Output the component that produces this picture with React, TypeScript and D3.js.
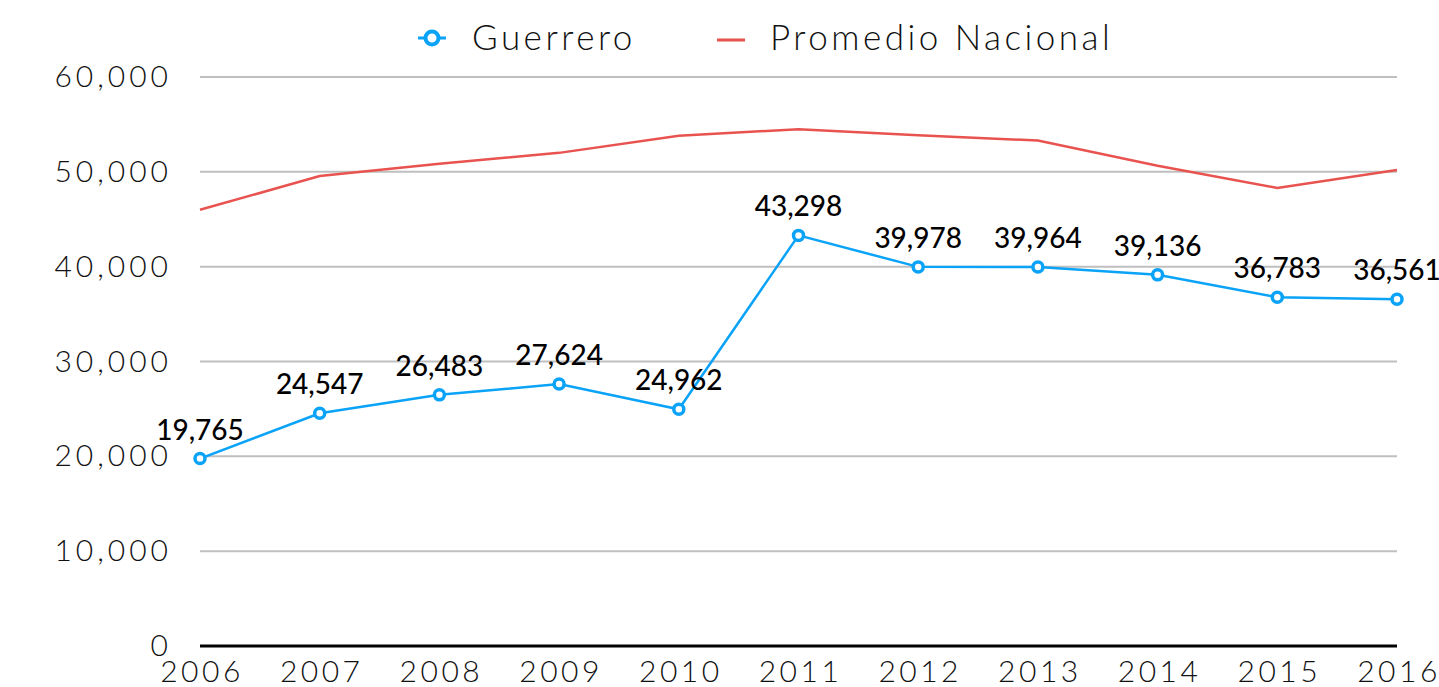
import React from "react";
import * as d3 from "d3";

const years = ["2006", "2007", "2008", "2009", "2010", "2011", "2012", "2013", "2014", "2015", "2016"];
const guerrero = [19765, 24547, 26483, 27624, 24962, 43298, 39978, 39964, 39136, 36783, 36561];
const promedioNacional = [46000, 49550, 50850, 52000, 53800, 54500, 53850, 53300, 50650, 48300, 50200];
const yTicks = [0, 10000, 20000, 30000, 40000, 50000, 60000];

const W = 1439;
const H = 687;
const BLUE = "#0aa3f7";
const RED = "#e8534f";

export default function App() {
  const x = d3.scalePoint<string>().domain(years).range([200, 1397]);
  const y = d3.scaleLinear().domain([0, 60000]).range([646, 77]);
  const fmt = d3.format(",");
  const lineG = d3
    .line<number>()
    .x((_, i) => x(years[i]) as number)
    .y((d) => y(d));
  const axisFont = "Lato, 'Open Sans', sans-serif";
  return (
    <svg width={W} height={H} style={{ position: "absolute", left: 0, top: 0, background: "#fff" }}>
      {/* legend */}
      <g>
        <line x1={418} x2={446} y1={38} y2={38} stroke={BLUE} strokeWidth={3} />
        <circle cx={432} cy={38} r={6.5} fill="#fff" stroke={BLUE} strokeWidth={4} />
        <text x={472} y={50} fontFamily={axisFont} fontWeight={300} fontSize={35} letterSpacing={3.5} fill="#111">
          Guerrero
        </text>
        <line x1={717} x2={745} y1={40} y2={40} stroke={RED} strokeWidth={3} />
        <text x={770} y={50} fontFamily={axisFont} fontWeight={300} fontSize={35} letterSpacing={3.5} fill="#111">
          Promedio Nacional
        </text>
      </g>
      {/* grid */}
      {yTicks.filter((t) => t > 0).map((t) => (
        <line key={t} x1={200} x2={1397} y1={y(t)} y2={y(t)} stroke="#bfbfbf" strokeWidth={2} />
      ))}
      {yTicks.map((t) => (
        <text
          key={"l" + t}
          x={172}
          y={y(t) + 10}
          textAnchor="end"
          fontFamily={axisFont}
          fontWeight={300}
          fontSize={30}
          letterSpacing={4}
          fill="#111"
        >
          {fmt(t)}
        </text>
      ))}
      <line x1={200} x2={1397} y1={y(0)} y2={y(0)} stroke="#000" strokeWidth={3} />
      {years.map((yr) => (
        <text
          key={yr}
          x={(x(yr) as number) + 2}
          y={682}
          textAnchor="middle"
          fontFamily={axisFont}
          fontWeight={300}
          fontSize={30}
          letterSpacing={3.5}
          fill="#111"
        >
          {yr}
        </text>
      ))}
      {/* promedio */}
      <path d={lineG(promedioNacional) || ""} fill="none" stroke={RED} strokeWidth={2.5} />
      {/* guerrero */}
      <path d={lineG(guerrero) || ""} fill="none" stroke={BLUE} strokeWidth={2.5} />
      {guerrero.map((v, i) => (
        <circle key={i} cx={x(years[i]) as number} cy={y(v)} r={5} fill="#fff" stroke={BLUE} strokeWidth={3.5} />
      ))}
      {guerrero.map((v, i) => (
        <text
          key={"d" + i}
          x={x(years[i]) as number}
          y={y(v) - 19}
          textAnchor="middle"
          fontFamily={axisFont}
          fontWeight={500}
          fontSize={28}
          fill="#000"
        >
          {fmt(v)}
        </text>
      ))}
    </svg>
  );
}
